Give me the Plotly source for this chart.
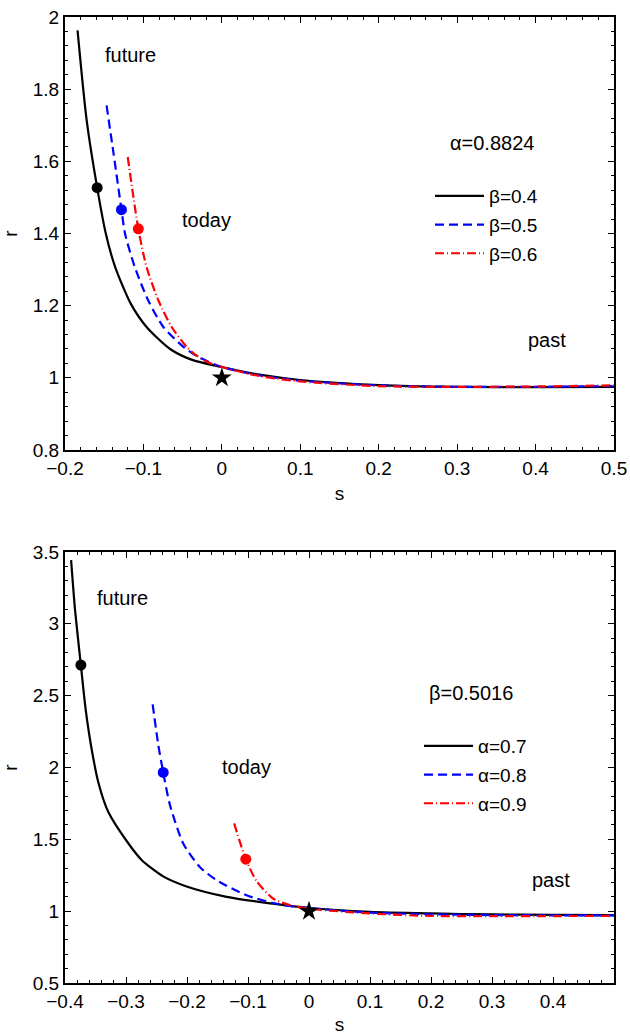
import plotly.graph_objects as go

# ---------------- top panel (alpha = 0.8824) ----------------
top_black_s = [-0.184, -0.1724, -0.159, -0.148, -0.136, -0.116, -0.096, -0.066, -0.037, 0.0, 0.05, 0.1, 0.2, 0.3, 0.4, 0.5]
top_black_r = [1.963, 1.714, 1.527, 1.40, 1.307, 1.205, 1.141, 1.080, 1.049, 1.030, 1.008, 0.994, 0.980, 0.975, 0.974, 0.975]
top_blue_s = [-0.147, -0.138, -0.128, -0.1235, -0.111, -0.094, -0.0746, -0.049, -0.03, 0.0, 0.05, 0.1, 0.2, 0.3, 0.4, 0.5]
top_blue_r = [1.755, 1.620, 1.466, 1.40, 1.307, 1.215, 1.141, 1.086, 1.058, 1.030, 1.006, 0.992, 0.979, 0.975, 0.975, 0.977]
top_red_s = [-0.120, -0.1065, -0.096, -0.081, -0.064, -0.045, -0.036, -0.02, 0.0, 0.05, 0.1, 0.2, 0.3, 0.4, 0.5]
top_red_r = [1.612, 1.413, 1.307, 1.215, 1.141, 1.086, 1.068, 1.045, 1.030, 1.004, 0.990, 0.977, 0.975, 0.976, 0.979]
top_dots_s = [-0.159, -0.128, -0.1065]
top_dots_r = [1.527, 1.466, 1.413]
top_names = ["β=0.4", "β=0.5", "β=0.6"]

# ---------------- bottom panel (beta = 0.5016) ----------------
bot_black_s = [-0.390, -0.3835, -0.374, -0.366, -0.356, -0.345, -0.329, -0.296, -0.274, -0.239, -0.2007, -0.135, -0.059, 0.0, 0.1, 0.2, 0.3, 0.4, 0.5]
bot_black_r = [3.444, 3.096, 2.713, 2.40, 2.12, 1.89, 1.69, 1.471, 1.355, 1.242, 1.172, 1.10, 1.052, 1.022, 0.995, 0.984, 0.977, 0.974, 0.972]
bot_blue_s = [-0.2563, -0.247, -0.239, -0.228, -0.206, -0.179, -0.1516, -0.1025, -0.059, -0.015, 0.1, 0.2, 0.3, 0.4, 0.5]
bot_blue_r = [2.439, 2.156, 1.966, 1.74, 1.47, 1.308, 1.216, 1.111, 1.057, 1.028, 0.990, 0.978, 0.973, 0.971, 0.971]
bot_red_s = [-0.1227, -0.1036, -0.086, -0.059, -0.0316, -0.004, 0.1, 0.2, 0.3, 0.4, 0.5]
bot_red_r = [1.611, 1.362, 1.21, 1.088, 1.042, 1.019, 0.984, 0.967, 0.965, 0.966, 0.967]
bot_dots_s = [-0.374, -0.239, -0.1036]
bot_dots_r = [2.713, 1.966, 1.362]
bot_names = ["α=0.7", "α=0.8", "α=0.9"]

star_s = [0.0]
star_r = [1.0]

top_xticks = [-0.2, -0.1, 0, 0.1, 0.2, 0.3, 0.4, 0.5]
top_yticks = [0.8, 1, 1.2, 1.4, 1.6, 1.8, 2]
bot_xticks = [-0.4, -0.3, -0.2, -0.1, 0, 0.1, 0.2, 0.3, 0.4]
bot_yticks = [0.5, 1, 1.5, 2, 2.5, 3, 3.5]

colors = ["black", "blue", "red"]
dashes = ["solid", "9px,5px", "9px,3px,1px,3px"]
FONT = "Liberation Sans, Arial, Helvetica, sans-serif"

fig = go.Figure()

def add_panel(curves, dots_s, dots_r, names, xa, ya, legend):
    for i, (s, r) in enumerate(curves):
        fig.add_trace(go.Scatter(
            x=s, y=r, mode="lines", name=names[i],
            line=dict(color=colors[i], width=2.2, dash=dashes[i], shape="spline", smoothing=0.7),
            xaxis=xa, yaxis=ya, legend=legend, legendgroup=legend + str(i),
        ))
    fig.add_trace(go.Scatter(
        x=dots_s, y=dots_r, mode="markers", showlegend=False,
        marker=dict(color=colors, size=11, line=dict(width=0)),
        xaxis=xa, yaxis=ya,
    ))
    fig.add_trace(go.Scatter(
        x=star_s, y=star_r, mode="markers", showlegend=False,
        marker=dict(color="black", size=15, symbol="star", line=dict(width=0)),
        xaxis=xa, yaxis=ya,
    ))

add_panel([(top_black_s, top_black_r), (top_blue_s, top_blue_r), (top_red_s, top_red_r)],
          top_dots_s, top_dots_r, top_names, "x", "y", "legend")
add_panel([(bot_black_s, bot_black_r), (bot_blue_s, bot_blue_r), (bot_red_s, bot_red_r)],
          bot_dots_s, bot_dots_r, bot_names, "x2", "y2", "legend2")

axis_common = dict(
    showline=True, linecolor="black", linewidth=2, mirror="allticks",
    ticks="inside", ticklen=6, tickwidth=1.3, tickcolor="black",
    showgrid=False, zeroline=False, automargin=False,
    tickfont=dict(family=FONT, size=19, color="black"),
    title_font=dict(family=FONT, size=19, color="black"),
)
minor = dict(ticks="inside", ticklen=3, tickwidth=1, tickcolor="black", showgrid=False)

X0, X1 = 65 / 630, 614 / 630
legend_common = dict(xanchor="left", yanchor="top", bgcolor="rgba(0,0,0,0)", borderwidth=0,
                     tracegroupgap=1, itemwidth=49,
                     font=dict(family=FONT, size=19, color="black"))
fig.update_layout(
    template="none",
    width=630, height=1035,
    margin=dict(l=0, r=0, t=0, b=0, autoexpand=False),
    paper_bgcolor="white", plot_bgcolor="white",
    font=dict(family=FONT, size=19, color="black"),
    xaxis=dict(axis_common, domain=[X0, X1], range=[-0.2, 0.5], tickvals=top_xticks,
               minor=dict(minor, dtick=0.02), title=dict(text="s", standoff=9), anchor="y"),
    yaxis=dict(axis_common, domain=[1 - 450 / 1035, 1 - 17 / 1035], range=[0.8, 2], tickvals=top_yticks,
               minor=dict(minor, dtick=0.04), title=dict(text="r", standoff=16), anchor="x"),
    xaxis2=dict(axis_common, domain=[X0, X1], range=[-0.4, 0.5], tickvals=bot_xticks,
                minor=dict(minor, dtick=0.02), title=dict(text="s", standoff=12), anchor="y2"),
    yaxis2=dict(axis_common, domain=[1 - 983 / 1035, 1 - 552 / 1035], range=[0.5, 3.5], tickvals=bot_yticks,
                minor=dict(minor, dtick=0.1), title=dict(text="r", standoff=16), anchor="x2"),
    legend=dict(legend_common, x=430 / 630, y=1 - 177 / 1035),
    legend2=dict(legend_common, x=419 / 630, y=1 - 727 / 1035),
)

ann = [
    ("future", -0.116, 1.894, "x", "y"),
    ("today", -0.020, 1.437, "x", "y"),
    ("past", 0.414, 1.105, "x", "y"),
    ("α=0.8824", 0.344, 1.650, "x", "y"),
    ("future", -0.306, 3.18, "x2", "y2"),
    ("today", -0.1025, 2.005, "x2", "y2"),
    ("past", 0.396, 1.216, "x2", "y2"),
    ("β=0.5016", 0.266, 2.518, "x2", "y2"),
]
for t, ax_, ay_, xr, yr in ann:
    fig.add_annotation(text=t, x=ax_, y=ay_, xref=xr, yref=yr, showarrow=False,
                       font=dict(family=FONT, size=20, color="black"))

fig.write_html("out.html", config={"displayModeBar": False},
               post_script="document.body.style.margin='0';document.body.style.overflow='hidden';")
